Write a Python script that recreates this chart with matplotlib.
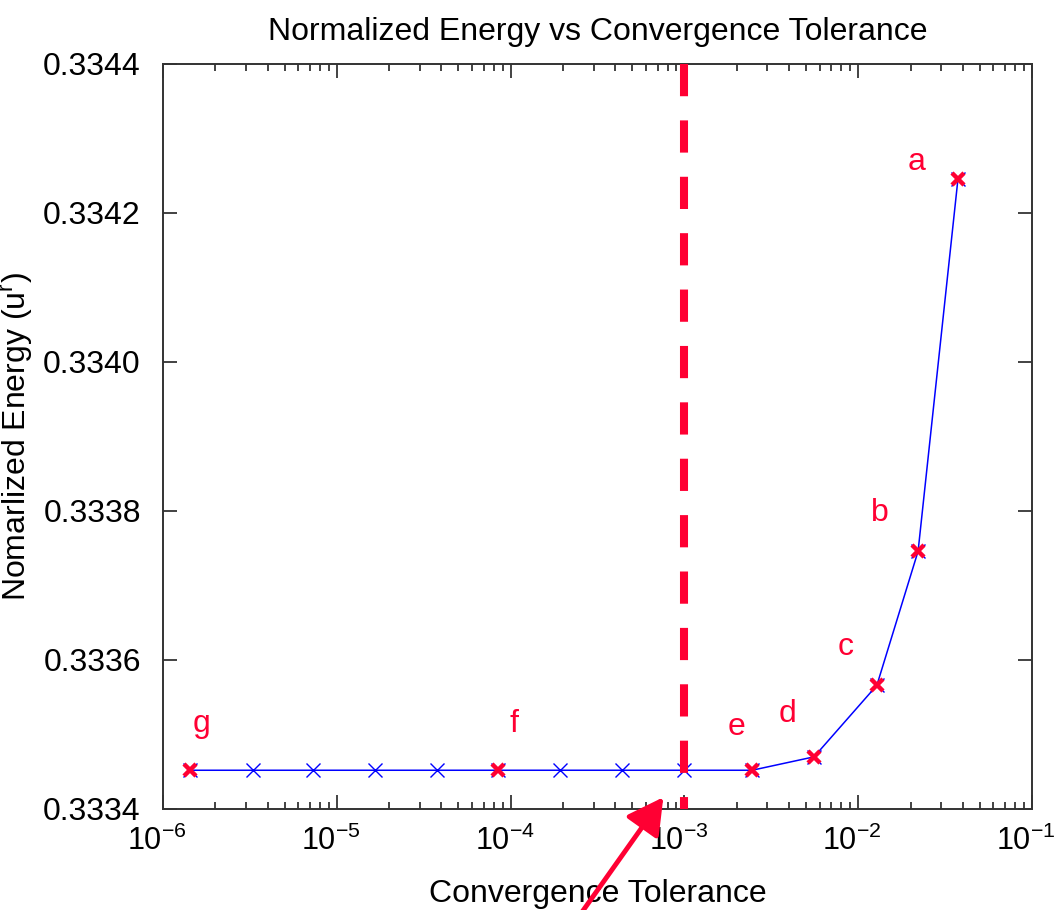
import matplotlib
matplotlib.use('Agg')
import matplotlib.pyplot as plt
from matplotlib.ticker import LogLocator, FixedLocator, NullFormatter
from matplotlib.transforms import ScaledTranslation

# tolerance values and energies
tolerance = [1.43e-6, 3.30e-6, 7.30e-6, 1.66e-5, 3.78e-5, 8.46e-5, 1.92e-4,
             4.37e-4, 1.0e-3, 2.45e-3, 5.57e-3, 1.28e-2, 2.21e-2, 3.75e-2]
energy = [0.333452, 0.333452, 0.333452, 0.333452, 0.333452, 0.333452, 0.333452,
          0.333452, 0.333452, 0.333452, 0.333470, 0.333566, 0.333746, 0.334246]

# labelled points (index into the lists above) and their letters
marked_idx = [13, 12, 11, 10, 9, 5, 0]
marked_txt = ['a', 'b', 'c', 'd', 'e', 'f', 'g']
# label offsets from the point, in pixels
label_off = [(-41, 17), (-38, 38), (-31, 38), (-27, 43), (-16, 43), (16, 46), (11, 46)]

threshold = 1e-3
xticks = [1e-6, 1e-5, 1e-4, 1e-3, 1e-2, 1e-1]
xticklabels = [r'$10^{-6}$', r'$10^{-5}$', r'$10^{-4}$', r'$10^{-3}$', r'$10^{-2}$', r'$10^{-1}$']
yticks = [0.3334, 0.3336, 0.3338, 0.3340, 0.3342, 0.3344]

plt.rcParams['font.family'] = 'Liberation Sans'
plt.rcParams['mathtext.fontset'] = 'custom'
plt.rcParams['mathtext.rm'] = 'Liberation Sans'
plt.rcParams['mathtext.it'] = 'Liberation Sans'
plt.rcParams['mathtext.default'] = 'regular'
plt.rcParams['axes.unicode_minus'] = False

red = '#FF0033'

fig = plt.figure(figsize=(10.56, 9.10), dpi=100)
ax = fig.add_axes([0.1544, 0.111, 0.8229, 0.8187])

ax.plot(tolerance, energy, color='blue', lw=1.1, marker='x', ms=10, mew=1.0, zorder=3)
ax.plot([tolerance[i] for i in marked_idx], [energy[i] for i in marked_idx],
        ls='none', marker='x', color=red, ms=9, mew=3.2, zorder=4)

ax.plot([threshold, threshold], [yticks[-1], yticks[0]], color=red, lw=5.8,
        dashes=(4, 3), dash_capstyle='butt', zorder=5, clip_on=False)

for i, t, off in zip(marked_idx, marked_txt, label_off):
    ax.annotate(t, (tolerance[i], energy[i]), xytext=off, textcoords='offset pixels',
                color=red, fontsize=23, ha='center', va='center')

ax.set_xscale('log')
ax.set_xlim(xticks[0], xticks[-1])
ax.set_ylim(yticks[0], yticks[-1])
ax.xaxis.set_major_locator(FixedLocator(xticks))
ax.set_xticklabels(xticklabels)
ax.xaxis.set_minor_locator(LogLocator(base=10, subs=range(2, 10), numticks=20))
ax.xaxis.set_minor_formatter(NullFormatter())
ax.yaxis.set_major_locator(FixedLocator(yticks))
ax.set_yticklabels(['%.4f' % v for v in yticks])

ax.tick_params(which='both', direction='in', top=True, right=True, width=1.2, color='#222222')
ax.tick_params(which='major', length=10)
ax.tick_params(which='minor', length=5)
ax.tick_params(axis='x', which='major', labelsize=22, pad=12)
ax.tick_params(axis='y', which='major', labelsize=23, pad=16)
for s in ax.spines.values():
    s.set_linewidth(1.4)
    s.set_color('#333333')

# "10" of each label ends near its tick, exponent hangs to the right
shift = ScaledTranslation(-0.06, 0, fig.dpi_scale_trans)
for lab in ax.get_xticklabels():
    lab.set_transform(lab.get_transform() + shift)

ax.set_title('Normalized Energy vs Convergence Tolerance', fontsize=23, pad=17)
ax.set_xlabel('Convergence Tolerance', fontsize=23)
ax.xaxis.set_label_coords(0.5, -0.094)
ax.set_ylabel(r'Nomarlized Energy (u$^{r}$)', fontsize=23)
ax.yaxis.set_label_coords(-0.147, 0.5)

# arrow pointing at the threshold from below the axis
fig.patches.append(matplotlib.patches.FancyArrowPatch(
    (0.5464, -0.01), (0.6297, 0.1264), transform=fig.transFigure,
    arrowstyle='-|>,head_length=1.1,head_width=0.6', mutation_scale=20,
    color=red, lw=3.5, zorder=10))

fig.savefig('out.png', dpi=100, facecolor='white')
